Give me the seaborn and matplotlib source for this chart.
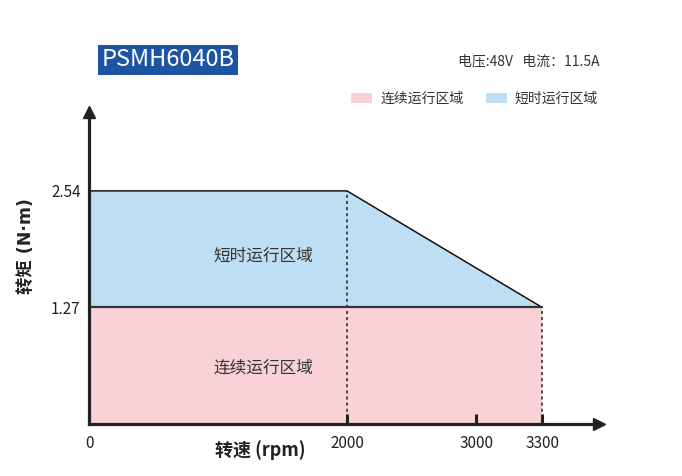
import numpy as np
import pandas as pd
import matplotlib
matplotlib.use("Agg")
import matplotlib.pyplot as plt
from matplotlib.patches import Patch
import seaborn as sns

# ---- data ----
speed = [0, 2000, 3300]
peak_torque = [2.54, 2.54, 1.27]
rated_torque = [1.27, 1.27, 1.27]
x_ticks = [0, 2000, 3000, 3300]
x_tick_labels = ["0", "2000", "3000", "3300"]
y_ticks = [1.27, 2.54]
y_tick_labels = ["1.27", "2.54"]
title = "PSMH6040B"
spec = "电压:48V   电流：11.5A"
cont_label = "连续运行区域"
peak_label = "短时运行区域"
x_label = "转速 (rpm)"
y_label = "转矩 (N·m)"

sns.set_theme(style="white")
plt.rcParams["font.family"] = ["Noto Sans CJK SC", "DejaVu Sans"]
plt.rcParams["axes.axisbelow"] = False

W, H = 682, 476
fig = plt.figure(figsize=(W / 100, H / 100), dpi=100)
# axes in pixel coordinates
x0, x1 = 89, 599
y0, y1 = 424, 112
ax = fig.add_axes([x0 / W, 1 - y0 / H, (x1 - x0) / W, (y0 - y1) / H])
ax.set_axisbelow(False)

# schematic (stretched) speed scale beyond 3000 rpm
def fwd(x):
    x = np.asarray(x, dtype=float)
    return np.where(x <= 3000, x, 3000 + (x - 3000) * 1.707)

def inv(y):
    y = np.asarray(y, dtype=float)
    return np.where(y <= 3000, y, 3000 + (y - 3000) / 1.707)

ax.set_xscale("function", functions=(fwd, inv))
ax.set_xlim(0, 3558)
ax.set_ylim(0, 3.40)

pink = "#F9D2D7"
blue = "#BDDEF3"

ax.fill_between(speed, 0, rated_torque, color=pink, lw=0, zorder=1)
ax.fill_between(speed, rated_torque, peak_torque, color=blue, lw=0, zorder=1)

df = pd.DataFrame({"speed": speed, "peak": peak_torque, "rated": rated_torque})
sns.lineplot(data=df, x="speed", y="peak", color="#111111", lw=1.1, ax=ax, zorder=3)
sns.lineplot(data=df, x="speed", y="rated", color="#333333", lw=1.6, ax=ax, zorder=3)

# dashed guide lines
ax.plot([speed[1], speed[1]], [0, peak_torque[1]], color="#222222", lw=1.1,
        ls=(0, (2, 2)), zorder=2)
ax.plot([speed[2], speed[2]], [0, peak_torque[2]], color="#222222", lw=1.1,
        ls=(0, (2, 2)), zorder=2)

# region labels
ax.text(1350, 1.83, peak_label,
        ha="center", va="center", fontsize=12, color="#333333", zorder=4)
ax.text(1350, 0.615, cont_label,
        ha="center", va="center", fontsize=12, color="#333333", zorder=4)

# axes styling
for s in ["top", "right"]:
    ax.spines[s].set_visible(False)
for s in ["left", "bottom"]:
    ax.spines[s].set_linewidth(2.3)
    ax.spines[s].set_color("#222222")
    ax.spines[s].set_zorder(5)
ax.plot(1, 0, ">", color="#222222", ms=9, transform=ax.get_yaxis_transform(),
        clip_on=False, zorder=6)
ax.plot(0, 1, "^", color="#222222", ms=9, transform=ax.get_xaxis_transform(),
        clip_on=False, zorder=6)

ax.set_xticks(x_ticks)
ax.set_xticklabels(x_tick_labels)
ax.set_yticks(y_ticks)
ax.set_yticklabels(y_tick_labels)
ax.tick_params(axis="x", bottom=True, direction="in", length=7, width=2.2,
               color="#222222", pad=8, labelsize=11, labelcolor="#222222")
ax.tick_params(axis="y", length=0, pad=6, labelsize=11, labelcolor="#222222")
ax.set_xlabel("")
ax.set_ylabel("")
ax.grid(False)

fig.text(260 / W, 1 - 450 / H, x_label, ha="center", va="center",
         fontsize=13, fontweight="bold", color="#222222")
fig.text(26 / W, 1 - 246 / H, y_label, ha="center", va="center", rotation=90,
         fontsize=12.5, fontweight="bold", color="#222222",
         family=["DejaVu Sans", "Noto Sans CJK SC"])

# title box
fig.text(168 / W, 1 - 60 / H, title, ha="center", va="center", fontsize=17,
         color="white",
         bbox=dict(boxstyle="square,pad=0.15", facecolor="#1D55A4", edgecolor="none"))
fig.text(600 / W, 1 - 61 / H, spec, ha="right", va="center", fontsize=10,
         color="#333333")

leg = fig.legend(handles=[Patch(facecolor=pink, edgecolor="none", label=cont_label),
                          Patch(facecolor=blue, edgecolor="none", label=peak_label)],
                 ncol=2, frameon=False, fontsize=10, handlelength=1.55,
                 handleheight=0.8, handletextpad=0.55, columnspacing=1.6,
                 loc="center right", bbox_to_anchor=(598 / W, 1 - 99 / H),
                 borderaxespad=0, borderpad=0)
for t in leg.get_texts():
    t.set_color("#333333")

fig.savefig("out.png", dpi=100)
